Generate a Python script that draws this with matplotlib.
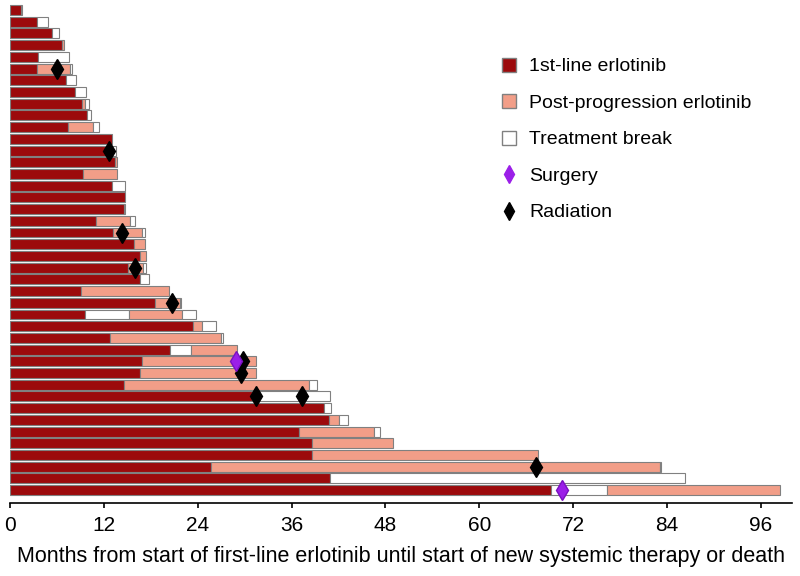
import matplotlib
matplotlib.use('Agg')
import matplotlib.pyplot as plt
from matplotlib.lines import Line2D

# Swimmer plot: one row per patient, listed top to bottom
# R = 1st-line erlotinib, S = post-progression erlotinib, W = treatment break
seg_kinds = [
    'RS', 'RW', 'RW', 'RS', 'RW', 'RSW', 'RW', 'RW', 'RSW', 'RW',
    'RSW', 'R', 'RW', 'RS', 'RS', 'RW', 'R', 'RS', 'RSW', 'RSW',
    'RS', 'RS', 'RSW', 'RW', 'RS', 'RSW', 'RWSW', 'RSW', 'RSW', 'RWS',
    'RS', 'RS', 'RSW', 'RW', 'RW', 'RSW', 'RSW', 'RS', 'RS', 'RSW',
    'RW', 'RWS',
]
# month at which each segment ends
seg_ends = [
    [1.4, 1.55], [3.5, 4.9], [5.4, 6.3], [6.7, 6.9], [3.6, 7.5],
    [3.5, 7.65, 7.9], [7.1, 8.4], [8.3, 9.7], [9.2, 9.65, 10.1], [9.9, 10.3],
    [7.45, 10.6, 11.4], [13.1], [12.8, 13.5], [13.4, 13.7], [9.3, 13.7],
    [13.1, 14.7], [14.75], [14.6, 14.75], [11.05, 15.4, 16.0], [13.2, 16.9, 17.3],
    [15.9, 17.3], [16.6, 17.35], [15.1, 17.0, 17.4], [16.6, 17.8], [9.05, 20.3],
    [18.6, 21.7, 21.9], [9.65, 15.2, 22.0, 23.8], [23.4, 24.6, 26.3], [12.85, 27.0, 27.3], [20.5, 23.1, 29.0],
    [16.9, 31.5], [16.6, 31.5], [14.6, 38.2, 39.2], [31.0, 40.9], [40.2, 41.0],
    [40.8, 42.1, 43.2], [37.0, 46.6, 47.3], [38.6, 49.0], [38.6, 67.5], [25.7, 83.1, 83.25],
    [40.9, 86.3], [69.2, 76.3, 98.5],
]

# events: (row index from top, month)
surgery_rows = [30, 41]
surgery_months = [28.9, 70.6]
radiation_rows = [5, 12, 19, 22, 25, 30, 31, 33, 33, 39]
radiation_months = [5.95, 12.6, 14.3, 16.0, 20.7, 29.85, 29.6, 31.5, 37.3, 67.2]

colors = {'R': '#9c0a0c', 'S': '#f29e88', 'W': '#ffffff'}
edge = '#808080'
font = ['Liberation Sans', 'DejaVu Sans']

n = len(seg_kinds)
fig = plt.figure(figsize=(8, 5.76), dpi=100)
ax = fig.add_axes([0.0125, 0.1267, 0.9775, 0.8681])

for i, (kinds, ends) in enumerate(zip(seg_kinds, seg_ends)):
    y = n - 1 - i
    start = 0
    for k, e in zip(kinds, ends):
        ax.barh(y, e - start, left=start, height=0.85, color=colors[k],
                edgecolor=edge, linewidth=0.8)
        start = e

ax.plot(radiation_months, [n - 1 - r for r in radiation_rows], 'd',
        color='black', markersize=10, linestyle='none')
ax.plot(surgery_months, [n - 1 - r for r in surgery_rows], 'd',
        color='#9b1fe8', markeredgecolor='#7a10c0', markersize=10, linestyle='none')

ax.set_xlim(0, 100)
ax.set_ylim(-1.1, n - 0.4)
ax.set_yticks([])
ax.set_xticks(range(0, 97, 12))
for s in ['left', 'right', 'top']:
    ax.spines[s].set_visible(False)
ax.spines['bottom'].set_linewidth(1.2)
ax.tick_params(axis='x', direction='out', length=3.5, width=1.2, labelsize=15, pad=5.5)
for lab in ax.get_xticklabels():
    lab.set_family(font)
ax.set_xlabel('Months from start of first-line erlotinib until start of new systemic therapy or death',
              fontsize=15.5, family=font, labelpad=8)

handles = [
    Line2D([], [], marker='s', linestyle='none', markersize=9.5,
           markerfacecolor=colors['R'], markeredgecolor=edge),
    Line2D([], [], marker='s', linestyle='none', markersize=9.5,
           markerfacecolor=colors['S'], markeredgecolor=edge),
    Line2D([], [], marker='s', linestyle='none', markersize=9.5,
           markerfacecolor=colors['W'], markeredgecolor=edge),
    Line2D([], [], marker='d', linestyle='none', markersize=9, color='#9b1fe8'),
    Line2D([], [], marker='d', linestyle='none', markersize=9, color='black'),
]
labels = ['1st-line erlotinib', 'Post-progression erlotinib', 'Treatment break',
          'Surgery', 'Radiation']
fig.legend(handles, labels, loc='upper left', bbox_to_anchor=(0.602, 0.93),
           frameon=False, prop={'family': font, 'size': 14},
           labelspacing=0.97, handletextpad=0.55, handlelength=1.0)

fig.savefig('out.png', dpi=100)
